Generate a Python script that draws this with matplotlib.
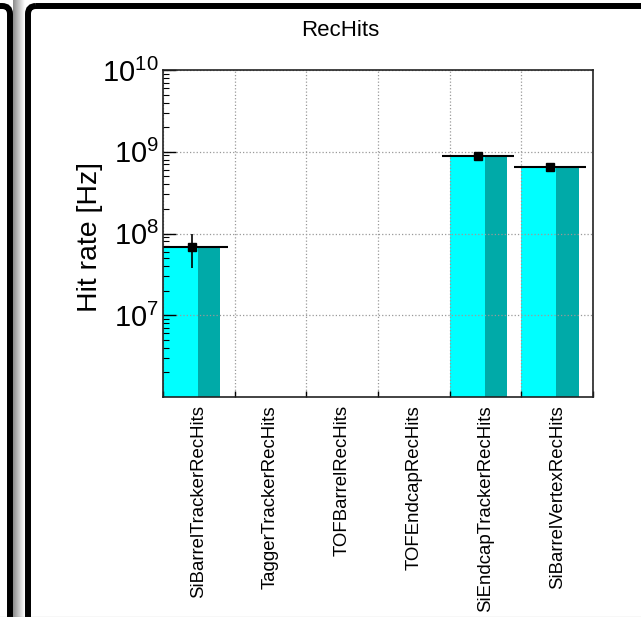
import numpy as np
import matplotlib
matplotlib.use("Agg")
import matplotlib.pyplot as plt
from matplotlib.patches import FancyBboxPatch

plt.rcParams["font.family"] = ["Liberation Sans", "DejaVu Sans"]
plt.rcParams["mathtext.fontset"] = "custom"
plt.rcParams["mathtext.rm"] = "Liberation Sans"
plt.rcParams["mathtext.it"] = "Liberation Sans"
plt.rcParams["mathtext.default"] = "regular"

# Data
categories = [
    "SiBarrelTrackerRecHits",
    "TaggerTrackerRecHits",
    "TOFBarrelRecHits",
    "TOFEndcapRecHits",
    "SiEndcapTrackerRecHits",
    "SiBarrelVertexRecHits",
]
rates = [6.9e7, 0.0, 0.0, 0.0, 8.9e8, 6.5e8]
rate_err = [3.1e7, 0.0, 0.0, 0.0, 6.0e7, 8.5e7]
y_ticks = [1e7, 1e8, 1e9, 1e10]
y_tick_labels = ["$10^{7}$", "$10^{8}$", "$10^{9}$", "$10^{10}$"]

W, H = 641, 617
fig = plt.figure(figsize=(W / 100, H / 100), dpi=100)

# Panel frames (pixel coordinates overlay)
bg = fig.add_axes([0, 0, 1, 1], zorder=0)
bg.axis("off")
grad = np.linspace(0.55, 1.0, 50)[None, :]
bg.imshow(grad, cmap="gray", vmin=0, vmax=1, extent=[13, 25, H, 0],
          aspect="auto", interpolation="bilinear")
bg.set_xlim(0, W)
bg.set_ylim(H, 0)
bg.add_patch(FancyBboxPatch((-700, 6), 710, 700,
                            boxstyle="round,pad=0,rounding_size=8",
                            fc="none", ec="black", lw=4.3))
bg.add_patch(FancyBboxPatch((28, 6), 700, 700,
                            boxstyle="round,pad=0,rounding_size=8",
                            fc="none", ec="black", lw=4.3))
bg.axhline(616.5, color="#777777", lw=0.8)

ax = fig.add_axes([163 / W, 1 - 397 / H, (593 - 163) / W, (397 - 70) / H],
                  zorder=1)
ymin, ymax = 1e6, 1e10
ax.set_yscale("log")
ax.set_ylim(ymin, ymax)
ax.set_xlim(0, len(categories))

x = np.arange(len(categories))
vals = np.array(rates)
errs = np.array(rate_err)
pos = vals > 0

# ROOT-style bars: light left part, darker right part
heights = np.where(pos, vals - ymin, 0)
ax.bar(x[pos], heights[pos], width=0.49, bottom=ymin, align="edge",
       color="#00ffff", lw=0, zorder=2)
ax.bar(x[pos] + 0.49, heights[pos], width=0.31, bottom=ymin, align="edge",
       color="#00aaa8", lw=0, zorder=2)

# histogram line, markers and error bars (offset like the original)
ax.hlines(vals[pos], x[pos] - 0.1, x[pos] + 0.9, color="black", lw=1.5,
          zorder=3)
ax.errorbar(x[pos] + 0.4, vals[pos], yerr=errs[pos], fmt="s", color="black",
            ms=6, elinewidth=1.2, capsize=0, zorder=4)

# axes styling
ax.set_xticks(x + 0.5)
ax.set_xticklabels(categories, rotation=90, fontsize=13.4, va="top")
ax.tick_params(axis="x", which="major", length=0, pad=6)
ax.set_xticks(np.arange(0, len(categories) + 1), minor=True)
ax.tick_params(axis="x", which="minor", direction="in", length=4, width=1,
               bottom=True, top=False)

ax.set_yticks(y_ticks)
ax.set_yticklabels(y_tick_labels, fontsize=21)
ax.tick_params(axis="y", which="major", direction="in", length=9, width=1,
               pad=3, right=False)
ax.tick_params(axis="y", which="minor", direction="in", length=4.5, width=0.8,
               right=False, labelleft=False)

ax.grid(True, axis="x", which="minor", color="#999999", ls=":", lw=0.9)
ax.grid(True, axis="y", which="major", color="#999999", ls=":", lw=0.9)
ax.set_axisbelow(False)
for sp in ax.spines.values():
    sp.set_linewidth(1.2)
    sp.set_color("#222222")
    sp.set_zorder(5)

ax.set_ylabel("Hit rate [Hz]", fontsize=20.5)
ax.yaxis.set_label_coords(-0.14, 0.49)
fig.text(340 / W, 1 - 31 / H, "RecHits", fontsize=16, ha="center",
         va="center")

fig.savefig("out.png", dpi=100)
